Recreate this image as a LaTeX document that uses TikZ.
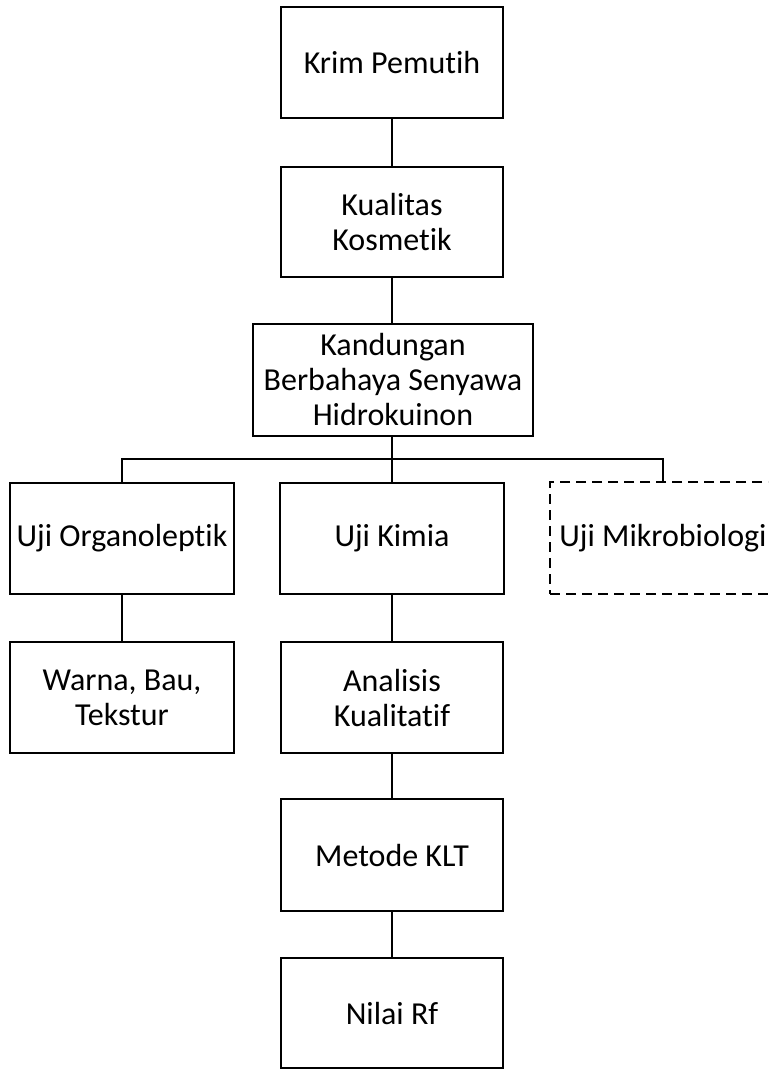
\documentclass[tikz,border=0pt]{standalone}
\usepackage{fontspec}
\setmainfont{Carlito}[Ligatures={NoCommon}]
\begin{document}
\begin{tikzpicture}[x=1pt,y=-1pt,
  box/.style={draw=black, line width=2pt, rectangle, minimum width=222pt, minimum height=111pt,
    align=center, inner sep=0pt, font=\fontsize{32}{35}\selectfont},
  dbox/.style={box, dash pattern=on 10pt off 6pt},
  link/.style={draw=black, line width=2pt}]
\clip (0,0) rectangle (768,1070);
\useasboundingbox (0,0) rectangle (768,1070);
\node[box] (krim) at (392,63) {Krim Pemutih};
\node[box, minimum height=110pt] (kual) at (392,222) {Kualitas\\Kosmetik};
\node[box, minimum width=280pt, minimum height=112pt] (kand) at (393,380) {Kandungan\\Berbahaya Senyawa\\Hidrokuinon};
\node[box, minimum width=224pt] (org) at (122,538.5) {Uji Organoleptik};
\node[box, minimum width=224pt] (kim) at (392,538.5) {Uji Kimia};
\node[dbox, minimum width=226pt, minimum height=112pt] (mik) at (663,538) {Uji Mikrobiologi};
\node[box, minimum width=224pt] (war) at (122,697.5) {Warna, Bau,\\Tekstur};
\node[box] (ana) at (392,697.5) {Analisis\\Kualitatif};
\node[box, minimum height=112pt] (met) at (392,855) {Metode KLT};
\node[box, minimum height=110pt] (nil) at (392,1013) {Nilai Rf};
\coordinate (bar) at (392,459);
\draw[link] (krim.south) -- (kual.north);
\draw[link] (kual.south) -- (kand.north -| kual.south);
\draw[link] (kand.south -| kim.north) -- (kim.north);
\draw[link] (org.north) |- (bar) -| (mik.north);
\draw[link] (org.south) -- (war.north);
\draw[link] (kim.south) -- (ana.north);
\draw[link] (ana.south) -- (met.north);
\draw[link] (met.south) -- (nil.north);
\end{tikzpicture}
\end{document}
